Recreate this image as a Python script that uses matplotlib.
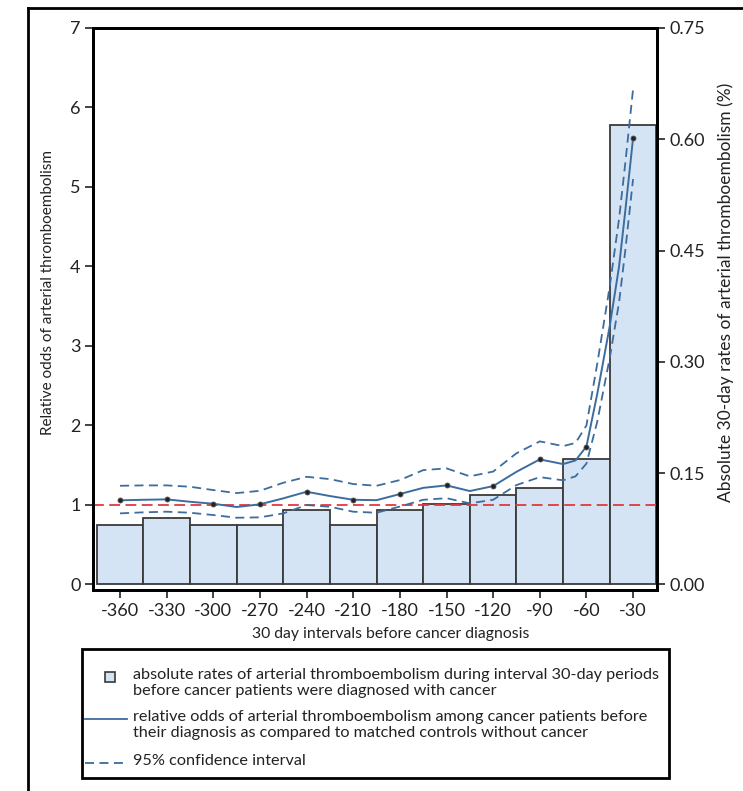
import matplotlib
matplotlib.use("Agg")
import matplotlib.pyplot as plt
from matplotlib.lines import Line2D
from matplotlib.patches import Rectangle

plt.rcParams["font.family"] = ["Lato", "DejaVu Sans"]
plt.rcParams["axes.unicode_minus"] = False

# ── Data ─────────────────────────────────────────────────────────────────────
intervals = [-360, -330, -300, -270, -240, -210, -180, -150, -120, -90, -60, -30]
abs_rate = [0.080, 0.089, 0.080, 0.080, 0.100, 0.080, 0.100, 0.108, 0.120,
            0.130, 0.169, 0.619]          # % per 30 days (right axis)
odds_pts = [1.058, 1.070, 1.015, 1.008, 1.166, 1.065, 1.137, 1.246, 1.237,
            1.573, 1.735, 5.613]          # relative odds (left axis)

# fitted curve + 95% CI
curve_x = [-360, -345, -330, -315, -300, -285, -270, -255, -240, -225, -210,
           -195, -180, -165, -150, -135, -120, -105, -90, -75, -67, -60, -53,
           -45, -39, -35, -30]
curve_fit = [1.058, 1.065, 1.070, 1.040, 1.015, 0.974, 1.008, 1.083, 1.166,
             1.112, 1.065, 1.060, 1.137, 1.215, 1.246, 1.175, 1.237, 1.417,
             1.573, 1.514, 1.560, 1.735, 2.40, 3.25, 4.00, 4.70, 5.613]
curve_upper = [1.241, 1.246, 1.246, 1.229, 1.187, 1.149, 1.178, 1.279, 1.354,
               1.325, 1.263, 1.241, 1.313, 1.438, 1.460, 1.360, 1.420, 1.650,
               1.800, 1.740, 1.780, 2.000, 2.78, 3.75, 4.60, 5.30, 6.23]
curve_lower = [0.894, 0.907, 0.915, 0.902, 0.873, 0.839, 0.844, 0.894, 0.999,
               0.977, 0.915, 0.902, 0.980, 1.065, 1.085, 1.020, 1.065, 1.250,
               1.350, 1.310, 1.360, 1.520, 2.05, 2.85, 3.55, 4.20, 5.10]

left_ticks = [0, 1, 2, 3, 4, 5, 6, 7]
right_ticks = [0.00, 0.15, 0.30, 0.45, 0.60, 0.75]

legend_labels = [
    "absolute rates of arterial thromboembolism during interval 30-day periods\n"
    "before cancer patients were diagnosed with cancer",
    "relative odds of arterial thromboembolism among cancer patients before\n"
    "their diagnosis as compared to matched controls without cancer",
    "95% confidence interval",
]

# ── Style ────────────────────────────────────────────────────────────────────
W, H = 743, 791
C_BAR = "#d4e4f5"
C_EDGE = "#3a3a3a"
C_LINE = "#3d6c9e"
C_REF = "#e0393e"
C_TXT = "#222222"
DASH = (0, (5, 3))


def fx(x):
    return x / W


def fy(y):
    return 1 - y / H


fig = plt.figure(figsize=(W / 100, H / 100), dpi=100)
ax = fig.add_axes([fx(93), fy(590), (657 - 93) / W, (590 - 28) / H])
ax_r = ax.twinx()

# bars on the right axis, drawn underneath
ax_r.bar(intervals, abs_rate, width=30, color=C_BAR, edgecolor=C_EDGE,
         linewidth=1.3)
ax.set_zorder(ax_r.get_zorder() + 1)
ax.patch.set_visible(False)

ax.axhline(1, color=C_REF, linestyle=(0, (6, 3)), linewidth=1.3)
ax.plot(curve_x, curve_upper, color=C_LINE, linestyle=DASH, linewidth=1.3)
ax.plot(curve_x, curve_lower, color=C_LINE, linestyle=DASH, linewidth=1.3)
ax.plot(curve_x, curve_fit, color=C_LINE, linewidth=1.4)
ax.plot(intervals, odds_pts, "o", color=C_TXT, markersize=3.6,
        markeredgecolor="#555555", markeredgewidth=0.6)

ylo = -0.07
ax.set_ylim(ylo, 7)
ax_r.set_ylim(ylo * 0.75 / 7, 0.75)
ax.set_xlim(-377.4, -14.6)

ax.set_xticks(intervals)
ax.set_yticks(left_ticks)
ax_r.set_yticks(right_ticks)
ax_r.set_yticklabels([f"{t:.2f}" for t in right_ticks])

for a in (ax, ax_r):
    for s in a.spines.values():
        s.set_linewidth(2)
    a.tick_params(direction="out", length=6, width=1.2, labelsize=13,
                  colors=C_TXT, pad=3)

ax.set_xlabel("30 day intervals before cancer diagnosis", fontsize=11.3,
              color=C_TXT)
ax.xaxis.set_label_coords(0.528, -0.066)
ax.set_ylabel("Relative odds of arterial thromboembolism", fontsize=11,
              color=C_TXT)
ax.yaxis.set_label_coords(-0.068, 0.53)
ax_r.set_ylabel("Absolute 30-day rates of arterial thromboembolism (%)",
                fontsize=12.5, color=C_TXT)
ax_r.yaxis.set_label_coords(1.108, 0.53)

# ── Outer frame and legend box ───────────────────────────────────────────────
fig.add_artist(Line2D([fx(28), fx(28)], [fy(8), 0], color="black", lw=2))
fig.add_artist(Line2D([fx(28), 1], [fy(8), fy(8)], color="black", lw=2))
fig.add_artist(Rectangle((fx(82), fy(778)), (669 - 82) / W, (778 - 649) / H,
                         transform=fig.transFigure, fill=False,
                         edgecolor="black", lw=2))

fig.add_artist(Rectangle((fx(105), fy(682)), 10 / W, 10 / H,
                         transform=fig.transFigure, facecolor=C_BAR,
                         edgecolor=C_EDGE, lw=1.2))
fig.add_artist(Line2D([fx(85), fx(127)], [fy(719), fy(719)], color=C_LINE,
                      lw=1.3))
fig.add_artist(Line2D([fx(85), fx(127)], [fy(763), fy(763)], color=C_LINE,
                      lw=1.3, linestyle=DASH))
for label, ytop in zip(legend_labels, [668, 710, 754]):
    fig.text(fx(133), fy(ytop), label, fontsize=11.7, va="top", ha="left",
             color=C_TXT, linespacing=1.2)

fig.savefig("out.png", dpi=100)
